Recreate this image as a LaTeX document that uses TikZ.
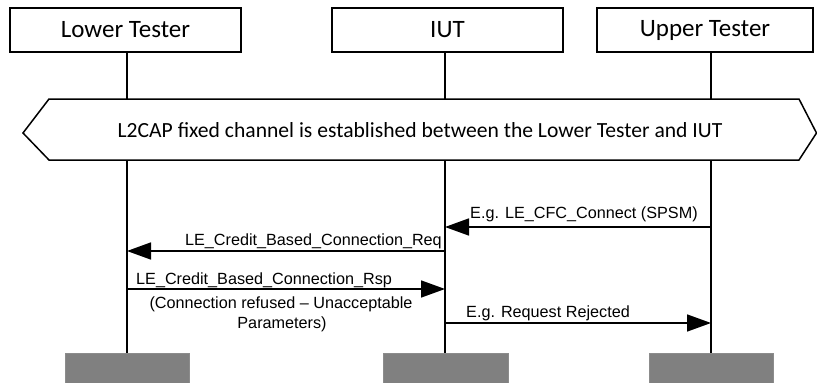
\documentclass[tikz,border=0pt]{standalone}
\usepackage{fontspec}
\setmainfont{Carlito}
\newfontfamily\arialfont{Liberation Sans}
\usetikzlibrary{arrows.meta}
\begin{document}
\begin{tikzpicture}[x=1pt,y=-1pt,
  hdr/.style={draw=black, line width=1.5pt, fill=white, inner sep=0pt, font=\fontsize{25}{27}\selectfont},
  life/.style={line width=1.6pt},
  msg/.style={line width=1.6pt, -{Triangle[length=24pt,width=17pt]}},
  lbl/.style={font=\arialfont\fontsize{16.2}{19}\selectfont, inner sep=0pt},
  endbox/.style={fill=gray, draw=gray!90, inner sep=0pt}]
\useasboundingbox (0,0) rectangle (817,383);
% headers
\node[hdr, minimum width=231pt, minimum height=44pt] (lt) at (125.5,30) {Lower Tester};
\node[hdr, minimum width=231pt, minimum height=44pt] (iut) at (447.5,30) {IUT};
\node[hdr, minimum width=216pt, minimum height=44pt] (ut) at (705,30) {Upper Tester};
% end boxes
\node[endbox, minimum width=124pt, minimum height=32pt] (lte) at (127,369) {};
\node[endbox, minimum width=125pt, minimum height=32pt] (iute) at (446,369) {};
\node[endbox, minimum width=124pt, minimum height=32pt] (ute) at (711,369) {};
% lifelines
\coordinate (ltt) at (127,52);
\coordinate (iutt) at (445,52);
\coordinate (utt) at (711,52);
\coordinate (ltb) at (127,353);
\coordinate (iutb) at (445,353);
\coordinate (utb) at (711,353);
\draw[life] (ltt) -- (ltb);
\draw[life] (iutt) -- (iutb);
\draw[life] (utt) -- (utb);
% hexagon
\draw[line width=1.5pt, fill=white] (23,133) -- (49,99) -- (799,99) -- (816.5,133) -- (799,160) -- (49,160) -- cycle;
\node[font=\fontsize{21.6}{24}\selectfont, inner sep=0pt] (hex) at (420,130) {L2CAP fixed channel is established between the Lower Tester and IUT};
% messages
\coordinate (a1s) at (711,227); \coordinate (a1e) at (445,227);
\draw[msg] (a1s) -- (a1e);
\node[lbl, anchor=base west] (l1) at (470,218) {E.g. LE\_CFC\_Connect (SPSM)};
\coordinate (a2s) at (445,251); \coordinate (a2e) at (127,251);
\draw[msg] (a2s) -- (a2e);
\node[lbl, anchor=base east] (l2) at (442,245) {LE\_Credit\_Based\_Connection\_Req};
\coordinate (a3s) at (127,289); \coordinate (a3e) at (445,289);
\draw[msg] (a3s) -- (a3e);
\node[lbl, anchor=base west] (l3) at (136,284) {LE\_Credit\_Based\_Connection\_Rsp};
\node[lbl, anchor=base] (l3b) at (281,308) {(Connection refused – Unacceptable};
\node[lbl, anchor=base] (l3c) at (282,328) {Parameters)};
\coordinate (a4s) at (445,323); \coordinate (a4e) at (711,323);
\draw[msg] (a4s) -- (a4e);
\node[lbl, anchor=base west] (l4) at (466,317) {E.g. Request Rejected};
\end{tikzpicture}
\end{document}
